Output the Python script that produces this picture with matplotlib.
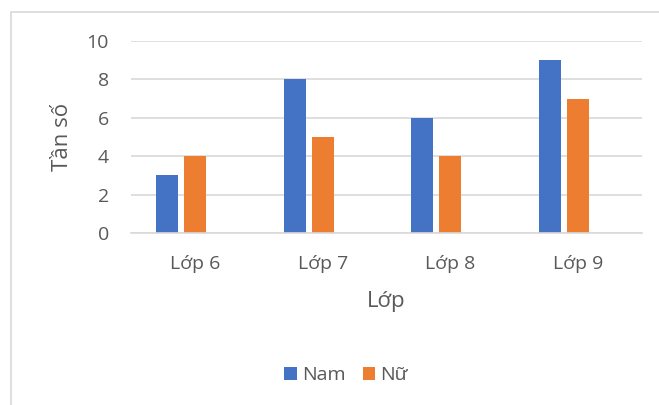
import matplotlib.pyplot as plt
from matplotlib.patches import Rectangle
import numpy as np

lop = ['Lớp 6', 'Lớp 7', 'Lớp 8', 'Lớp 9']
nam = [3, 8, 6, 9]
nu = [4, 5, 4, 7]

plt.rcParams['font.family'] = ['Open Sans', 'DejaVu Sans']
txt = '#595959'
grid = '#d9d9d9'

fig = plt.figure(figsize=(6.59, 4.05), dpi=100)
fig.patches.append(Rectangle((11 / 659, -0.1), 1.2, 1 - 12 / 405 + 0.1,
                             transform=fig.transFigure, fill=False,
                             edgecolor=grid, linewidth=1.2))
ax = fig.add_axes([131 / 659, 1 - 233 / 405, 511 / 659, 192 / 405])

x = np.arange(len(lop))
w = 0.172
ax.bar(x - 0.219, nam, w, color='#4472c4', label='Nam')
ax.bar(x, nu, w, color='#ed7d31', label='Nữ')

ax.set_xlim(-0.5, 3.5)
ax.set_ylim(0, 10)
ax.set_yticks(range(0, 11, 2))
ax.set_xticks(x)
ax.set_xticklabels(lop)
ax.yaxis.grid(True, color=grid, linewidth=1.2)
ax.set_axisbelow(True)
for s in ['top', 'right', 'left']:
    ax.spines[s].set_visible(False)
ax.spines['bottom'].set_color(grid)
ax.spines['bottom'].set_linewidth(1.2)
ax.tick_params(length=0, colors=txt, labelsize=14)
ax.tick_params(axis='y', pad=16)
ax.tick_params(axis='x', pad=16)

ax.set_ylabel('Tần số', color=txt, fontsize=16, labelpad=10)
ax.set_xlabel('Lớp', color=txt, fontsize=16, labelpad=13)

leg = fig.legend(loc='center', bbox_to_anchor=(346 / 659, 1 - 375 / 405), ncol=2,
                 frameon=False, fontsize=14, handlelength=0.65, handleheight=0.65,
                 handletextpad=0.25, columnspacing=0.9)
for t in leg.get_texts():
    t.set_color(txt)

fig.savefig('out.png', dpi=100)
